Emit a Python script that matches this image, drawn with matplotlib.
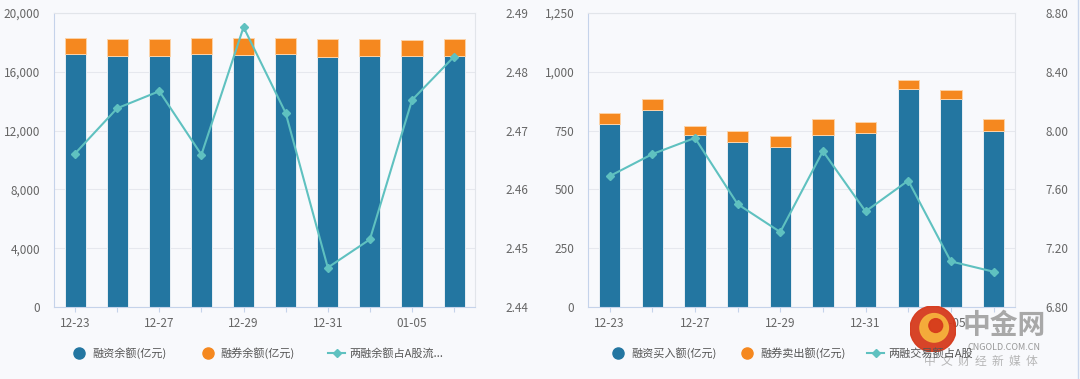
import matplotlib
matplotlib.use("Agg")
import matplotlib.pyplot as plt
from matplotlib.lines import Line2D
from matplotlib.patches import Circle
from matplotlib.ticker import FuncFormatter

plt.rcParams['font.family'] = ['Noto Sans CJK SC', 'DejaVu Sans']

# dates (every other one gets a label)
dates = ['12-23', '12-24', '12-27', '12-28', '12-29', '12-30', '12-31', '01-04', '01-05', '01-06']
shown = ['12-23', '', '12-27', '', '12-29', '', '12-31', '', '01-05', '']

# left chart: balances
fin_balance = [17190, 17100, 17100, 17190, 17120, 17190, 17030, 17100, 17100, 17100]
lend_balance = [1130, 1155, 1155, 1130, 1200, 1130, 1225, 1155, 1085, 1155]
bal_ratio = [2.4661, 2.4738, 2.4767, 2.4659, 2.4876, 2.4730, 2.4467, 2.4515, 2.4752, 2.4826]

# right chart: trading amounts
fin_buy = [777, 838, 730, 702, 679, 730, 738, 925, 883, 750]
lend_sell = [48, 47, 38, 47, 47, 68, 47, 40, 40, 48]
trade_ratio = [7.69, 7.84, 7.95, 7.50, 7.31, 7.86, 7.45, 7.66, 7.11, 7.04]

left_names = ['融资余额(亿元)', '融券余额(亿元)', '两融余额占A股流...']
right_names = ['融资买入额(亿元)', '融券卖出额(亿元)', '两融交易额占A股']

BG = '#f8f9fc'
BLUE = '#2376a1'
ORANGE = '#f5881f'
TEAL = '#5fc1c0'
TXT = '#666666'

fig = plt.figure(figsize=(10.8, 3.79), dpi=100, facecolor=BG)


def draw_panel(rect, base, top, ratio, ylim, yticks, y2lim, y2ticks, names, legx, colsp):
    ax = fig.add_axes(rect, facecolor=BG)
    x = range(len(dates))
    ax.bar(x, base, width=0.5, color=BLUE, edgecolor='#e8eef4', linewidth=0.7, zorder=2)
    ax.bar(x, top, width=0.5, bottom=base, color=ORANGE, edgecolor='#fcd2a6', linewidth=0.7, zorder=2)
    ax.set_xlim(-0.5, len(dates) - 0.5)
    ax.set_ylim(*ylim)
    ax.set_yticks(yticks)
    ax.yaxis.set_major_formatter(FuncFormatter(lambda v, p: f'{int(v):,}'))
    ax.set_xticks(list(x))
    ax.set_xticklabels(shown)
    ax.grid(axis='y', color='#e6e8ee', linewidth=0.8, zorder=0)
    ax.tick_params(axis='y', length=0, pad=10, labelsize=8.5, labelcolor=TXT)
    ax.tick_params(axis='x', length=3.5, color='#c5d3ea', pad=4, labelsize=8.5, labelcolor=TXT)
    for s in ['left', 'bottom']:
        ax.spines[s].set_color('#c5d3ea')
    for s in ['top', 'right']:
        ax.spines[s].set_color('#e2e5ea')
    ax2 = ax.twinx()
    ax2.plot(list(x), ratio, color=TEAL, linewidth=1.5, marker='D', markersize=3.8, zorder=3)
    ax2.set_ylim(*y2lim)
    ax2.set_yticks(y2ticks)
    ax2.yaxis.set_major_formatter(FuncFormatter(lambda v, p: f'{v:.2f}'))
    ax2.tick_params(axis='y', length=0, pad=22, labelsize=8.5, labelcolor=TXT)
    for s in ax2.spines.values():
        s.set_visible(False)

    handles = [
        Line2D([], [], linestyle='none', marker='o', markersize=8, color=BLUE),
        Line2D([], [], linestyle='none', marker='o', markersize=8, color=ORANGE),
        Line2D([], [], color=TEAL, linewidth=1.5, marker='D', markersize=3.8),
    ]
    fig.legend(handles, names, loc='center', bbox_to_anchor=(legx, 0.068), ncol=3,
               frameon=False, fontsize=8, labelcolor='#555555', handlelength=1.5,
               columnspacing=colsp, handletextpad=0.4)
    return ax, ax2


draw_panel([0.05, 0.19, 0.39, 0.7757], fin_balance, lend_balance, bal_ratio,
           (0, 20000), [0, 4000, 8000, 12000, 16000, 20000],
           (2.44, 2.49), [2.44, 2.45, 2.46, 2.47, 2.48, 2.49], left_names, 0.238, 3.0)
draw_panel([0.5447, 0.19, 0.395, 0.7757], fin_buy, lend_sell, trade_ratio,
           (0, 1250), [0, 250, 500, 750, 1000, 1250],
           (6.8, 8.8), [6.8, 7.2, 7.6, 8.0, 8.4, 8.8], right_names, 0.733, 2.0)

# thin border at the right edge of the image
fig.add_artist(Line2D([0.9985, 0.9985], [0, 1], color='#c9d6ec', linewidth=1,
                      transform=fig.transFigure))

# watermark
logo = fig.add_axes([910 / 1080, 1 - 352 / 379, 46 / 1080, 46 / 379])
logo.set_xlim(-1, 1)
logo.set_ylim(-1, 1)
logo.set_aspect('equal')
logo.axis('off')
logo.add_patch(Circle((0, 0), 1.0, color='#d63a1c', alpha=0.95))
logo.add_patch(Circle((0.05, 0.05), 0.62, color='#f6b13c', alpha=0.95))
logo.add_patch(Circle((0.12, 0.15), 0.3, color='#d63a1c', alpha=0.95))
fig.text(1004 / 1080, 1 - 326 / 379, '中金网', fontsize=20, color='#9a9a9a', alpha=0.85,
         ha='center', va='center', fontweight='bold')
fig.text(1004 / 1080, 1 - 347 / 379, 'CNGOLD.COM.CN', fontsize=6.5, color='#999999',
         ha='center', va='center')
fig.text(981 / 1080, 1 - 361 / 379, '中  文  财  经  新  媒  体', fontsize=8.5, color='#aaaaaa',
         ha='center', va='center', alpha=0.85)

fig.savefig('out.png', dpi=100, facecolor=BG)
